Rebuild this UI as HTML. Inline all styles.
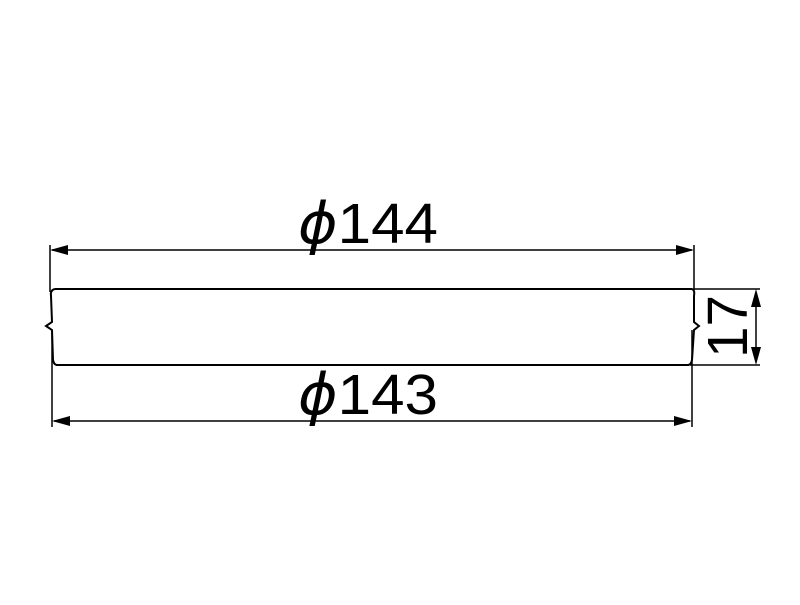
<!DOCTYPE html>
<html><head><meta charset="utf-8"><style>html,body{margin:0;padding:0;background:#fff}</style></head>
<body>
<svg width="800" height="600" viewBox="0 0 800 600" xmlns="http://www.w3.org/2000/svg">
<rect width="800" height="600" fill="#fff"/>
<g stroke="#000" fill="none" stroke-width="1.5">
<!-- extension lines -->
<line x1="50" y1="245" x2="50" y2="292"/>
<line x1="694" y1="245" x2="694" y2="290"/>
<line x1="52" y1="330" x2="52" y2="427"/>
<line x1="692" y1="330" x2="692" y2="427"/>
<!-- dimension lines -->
<line x1="52" y1="250" x2="692" y2="250"/>
<line x1="54" y1="421" x2="690" y2="421"/>
<!-- body -->
<path d="M55,289 L692,289" stroke-width="2"/>
<path d="M56,365 L689,365" stroke-width="2"/>
<path d="M55,289 Q50,290 51,296 L52,322 L46,326 L52,330 L53,360 Q54,365 57,365" stroke-width="2"/>
<path d="M692,289 Q695,290 694,296 L694,322 L699,326 L694,330 L692,360 Q691,365 688,365" stroke-width="2"/>
<!-- 17 dimension -->
<line x1="694" y1="289" x2="760" y2="289"/>
<line x1="690" y1="365" x2="760" y2="365"/>
<line x1="756" y1="295" x2="756" y2="359"/>
</g>
<g fill="#000">
<polygon points="50,250 68,245 68,255"/>
<polygon points="694,250 676,245 676,255"/>
<polygon points="52,421 70,416 70,426"/>
<polygon points="692,421 674,416 674,426"/>
<polygon points="756,289 751,307 761,307"/>
<polygon points="756,365 751,347 761,347"/>
</g>
<g font-family="'Liberation Sans', sans-serif" font-size="57" fill="#000">
<text x="298" y="243" textLength="140" lengthAdjust="spacingAndGlyphs"><tspan font-style="italic" font-family="'DejaVu Sans', sans-serif" font-weight="300">ϕ</tspan>144</text>
<text x="298" y="414" textLength="140" lengthAdjust="spacingAndGlyphs"><tspan font-style="italic" font-family="'DejaVu Sans', sans-serif" font-weight="300">ϕ</tspan>143</text>
<text transform="translate(747,358) rotate(-90)" textLength="63" lengthAdjust="spacingAndGlyphs">17</text>
</g>
</svg>
</body></html>
